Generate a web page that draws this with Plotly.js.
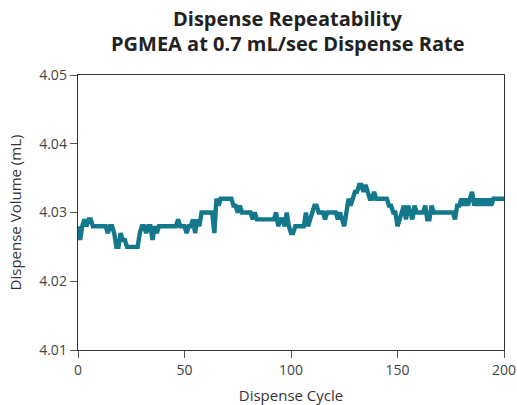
<!DOCTYPE html>
<html>
<head>
<meta charset="utf-8">
<script src="https://cdn.plot.ly/plotly-3.0.1.min.js"></script>
<style>html,body{margin:0;padding:0;background:#fff;}#chart{width:517px;height:405px;}</style>
</head>
<body>
<div id="chart"></div>
<script>
const cycles = Array.from({length: 201}, (_, i) => i);
const volume = [
4.028,4.026,4.028,4.029,4.028,4.029,4.029,4.028,4.028,4.028,
4.028,4.028,4.028,4.028,4.027,4.028,4.028,4.027,4.025,4.025,
4.027,4.026,4.026,4.025,4.025,4.025,4.025,4.025,4.025,4.027,
4.028,4.028,4.027,4.028,4.028,4.026,4.028,4.027,4.028,4.028,
4.028,4.028,4.028,4.028,4.028,4.028,4.028,4.029,4.028,4.028,
4.028,4.027,4.028,4.028,4.029,4.027,4.029,4.028,4.030,4.030,
4.030,4.030,4.030,4.030,4.027,4.032,4.031,4.032,4.032,4.032,
4.032,4.032,4.032,4.031,4.031,4.030,4.031,4.030,4.030,4.030,
4.030,4.030,4.029,4.030,4.029,4.029,4.029,4.029,4.029,4.029,
4.029,4.029,4.029,4.030,4.028,4.029,4.029,4.028,4.030,4.028,
4.027,4.027,4.028,4.028,4.028,4.028,4.028,4.030,4.028,4.029,
4.030,4.031,4.031,4.030,4.030,4.030,4.029,4.030,4.030,4.030,
4.030,4.030,4.029,4.030,4.029,4.028,4.030,4.032,4.031,4.032,
4.033,4.033,4.034,4.034,4.033,4.034,4.033,4.032,4.032,4.033,
4.032,4.032,4.032,4.032,4.032,4.032,4.031,4.031,4.030,4.030,
4.028,4.029,4.030,4.031,4.029,4.031,4.030,4.029,4.031,4.030,
4.030,4.030,4.030,4.031,4.029,4.029,4.031,4.030,4.030,4.030,
4.030,4.030,4.030,4.030,4.030,4.030,4.030,4.029,4.031,4.031,
4.032,4.031,4.032,4.031,4.032,4.033,4.031,4.032,4.031,4.032,
4.031,4.032,4.031,4.032,4.031,4.032,4.032,4.032,4.032,4.032,
4.032
];
const xTicks = [0, 50, 100, 150, 200];
const yTicks = [4.01, 4.02, 4.03, 4.04, 4.05];
const titleLines = ['Dispense Repeatability', 'PGMEA at 0.7 mL/sec Dispense Rate'];

const trace = {
  x: cycles, y: volume, type: 'scatter', mode: 'lines',
  line: {color: '#13788c', width: 4.4, shape: 'linear'},
  hoverinfo: 'skip'
};
const axisCommon = {
  showgrid: false, zeroline: false, showline: true, mirror: true,
  linecolor: '#333', linewidth: 1.3, ticks: 'outside', ticklen: 7,
  tickcolor: '#555', tickwidth: 1,
  tickfont: {family: 'Open Sans, sans-serif', size: 14, color: '#444'}
};
const titleFont = {family: 'Open Sans, sans-serif', size: 20, color: '#222'};
const layout = {
  width: 517, height: 405,
  margin: {l: 78, r: 13, t: 75, b: 55},
  paper_bgcolor: '#fff', plot_bgcolor: '#fff',
  showlegend: false,
  annotations: [
    {text: '<b>' + titleLines[0] + '</b>', xref: 'paper', yref: 'paper', x: 0.492, y: 1.204,
     xanchor: 'center', yanchor: 'middle', showarrow: false, font: titleFont},
    {text: '<b>' + titleLines[1] + '</b>', xref: 'paper', yref: 'paper', x: 0.492, y: 1.113,
     xanchor: 'center', yanchor: 'middle', showarrow: false, font: titleFont}
  ],
  xaxis: Object.assign({}, axisCommon, {
    range: [0, 200], tickvals: xTicks, ticktext: xTicks.map(String),
    title: {text: 'Dispense Cycle', font: {family: 'Open Sans, sans-serif', size: 15, color: '#333'}, standoff: 12}
  }),
  yaxis: Object.assign({}, axisCommon, {
    range: [4.01, 4.05], tickvals: yTicks, ticktext: yTicks.map(v => v.toFixed(2)),
    title: {text: 'Dispense Volume (mL)', font: {family: 'Open Sans, sans-serif', size: 15, color: '#333'}, standoff: 14}
  })
};
Plotly.newPlot('chart', [trace], layout, {displayModeBar: false, staticPlot: true});
</script>
</body>
</html>
